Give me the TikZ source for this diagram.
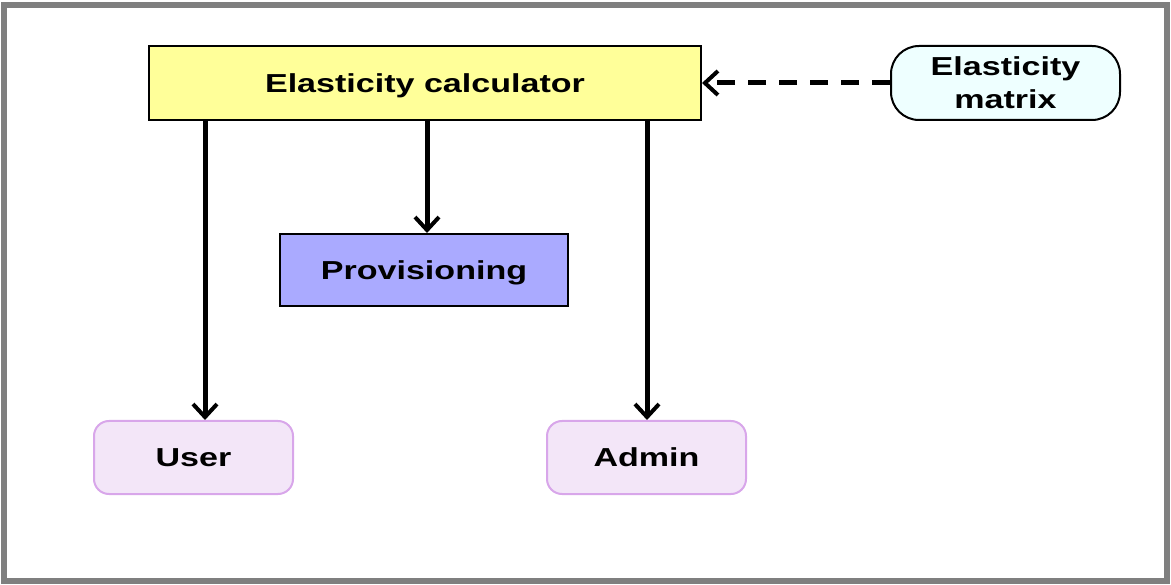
\documentclass[tikz,border=0pt]{standalone}
\usepackage{fontspec}
\usetikzlibrary{arrows.meta}
\newfontfamily\labelfont[FakeStretch=1.31]{Liberation Sans Bold}
\definecolor{calcfill}{HTML}{FFFF99}
\definecolor{provfill}{HTML}{AAAAFF}
\definecolor{rolefill}{HTML}{F3E6F8}
\definecolor{roleline}{HTML}{D8A6EA}
\definecolor{matfill}{HTML}{EEFFFF}
\definecolor{frameline}{HTML}{7F7F7F}
\begin{document}
\begin{tikzpicture}[x=1pt,y=-1pt,
  lbl/.style={font=\labelfont\fontsize{26}{33}\selectfont, text=black, align=center,
              text depth=0pt},
  sqbox/.style={lbl, draw=black, line width=2pt, inner sep=0pt},
  rolebox/.style={lbl, draw=roleline, fill=rolefill, line width=2pt, rounded corners=15pt, inner sep=0pt},
  flow/.style={line width=5pt, -{Straight Barb[length=13pt,width=24pt,line width=4pt]}},
]
\useasboundingbox (0,0) rectangle (1171,585);
% outer frame
\draw[frameline, line width=5.5pt] (4,5) rectangle (1167,581);

% nodes
\node[sqbox, fill=calcfill, minimum width=552pt, minimum height=74pt] (calc) at (425,83) {Elasticity calculator};
\node[sqbox, fill=provfill, minimum width=288pt, minimum height=72pt] (prov) at (424,270) {Provisioning};
\node[rolebox, minimum width=199pt, minimum height=73pt] (user) at (193.5,457.5) {User};
\node[rolebox, minimum width=199pt, minimum height=73pt] (admin) at (646.5,457.5) {Admin};
\node[lbl, draw=black, fill=matfill, line width=2pt, rounded corners=28pt, inner sep=0pt,
      minimum width=229pt, minimum height=74pt] (mat) at (1005.5,83) {Elasticity\\matrix};

% connectors
\draw[flow] (calc.south -| 205,0) -- (user.north -| 205,0);
\draw[flow] (calc.south -| 427,0) -- (prov.north -| 427,0);
\draw[flow] (calc.south -| 647,0) -- (admin.north -| 647,0);
\draw[flow, dash pattern=on 18pt off 13pt] (mat.west) -- (calc.east);
\end{tikzpicture}
\end{document}
